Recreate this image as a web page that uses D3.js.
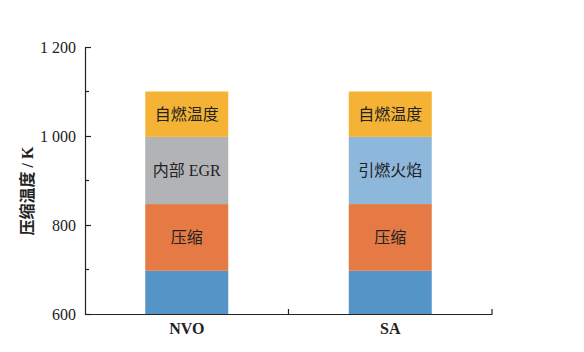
<!DOCTYPE html>
<html><head><meta charset="utf-8">
<script src="https://cdn.jsdelivr.net/npm/d3@7"></script>
<style>
html,body{margin:0;padding:0;background:#fff;}
svg{display:block;}
text{font-family:"Liberation Serif","Noto Sans CJK SC",serif;fill:#222;}
</style></head>
<body><svg id="c" width="584" height="352"></svg>
<script>
const categories = ["NVO", "SA"];
const baseTemp = [697, 697];          // 初始
const compressRise = [150, 150];      // 压缩
const middleRise = [151, 151];        // 内部 EGR / 引燃火焰
const autoRise = [102, 102];          // 自燃温度
const middleLabels = ["内部 EGR", "引燃火焰"];
const yTicks = [600, 800, 1000, 1200];
const yMinorTicks = [700, 900, 1100];
const yTitle = "压缩温度 / K";

const keys = ["base", "compress", "middle", "auto"];
const colors = {base: "#5494c7", compress: "#e67a44", auto: "#f5b335"};
const middleColors = ["#b2b3b6", "#8eb7dc"];

const table = categories.map((c, i) => ({cat: c, base: baseTemp[i], compress: compressRise[i], middle: middleRise[i], auto: autoRise[i], idx: i}));
const series = d3.stack().keys(keys)(table);

const svg = d3.select("#c");
const x = d3.scaleBand().domain(categories).range([85, 492]).paddingInner(0).paddingOuter(0);
const y = d3.scaleLinear().domain([600, 1200]).range([314, 47]);
const barW = 83;

const g = svg.append("g");
series.forEach(s => {
  g.selectAll(null).data(s).enter().append("rect")
    .attr("x", d => x(d.data.cat) + x.bandwidth() / 2 - barW / 2)
    .attr("width", barW)
    .attr("y", d => y(d[1]))
    .attr("height", d => y(Math.max(600, d[0])) - y(d[1]))
    .attr("fill", d => s.key === "middle" ? middleColors[d.data.idx] : colors[s.key]);
});

// segment labels
const labelFor = (key, d) => key === "compress" ? "压缩" : key === "middle" ? middleLabels[d.data.idx] : key === "auto" ? "自燃温度" : null;
series.forEach(s => {
  if (s.key === "base") return;
  g.selectAll(null).data(s).enter().append("text")
    .attr("x", d => x(d.data.cat) + x.bandwidth() / 2)
    .attr("y", d => (y(d[0]) + y(d[1])) / 2)
    .attr("text-anchor", "middle")
    .attr("dominant-baseline", "central")
    .attr("font-size", 16)
    .text(d => labelFor(s.key, d));
});

// y axis
const yAxis = d3.axisLeft(y).tickValues(yTicks).tickSizeInner(-6).tickSizeOuter(0).tickPadding(9)
  .tickFormat(d => d3.format(",")(d).replace(",", " "));
const ya = svg.append("g").attr("transform", "translate(85,0)").call(yAxis);
ya.selectAll("text").attr("font-size", 16).attr("font-family", "Liberation Serif").attr("fill", "#222");
ya.selectAll("line,path").attr("stroke", "#222").attr("stroke-width", 1.2);
ya.selectAll(null).data(yMinorTicks).enter().append("line")
  .attr("x1", 0).attr("x2", 4).attr("y1", d => y(d)).attr("y2", d => y(d))
  .attr("stroke", "#222").attr("stroke-width", 1.2);

// x axis
const xAxis = d3.axisBottom(x).tickSize(0).tickPadding(9);
const xa = svg.append("g").attr("transform", "translate(0,314)").call(xAxis);
xa.selectAll("text").attr("font-size", 16).attr("font-weight", "bold").attr("font-family", "Liberation Serif").attr("fill", "#222");
xa.selectAll("path").attr("stroke", "#222").attr("stroke-width", 1.2);
xa.selectAll(null).data(categories).enter().append("line")
  .attr("x1", d => x(d) + x.bandwidth()).attr("x2", d => x(d) + x.bandwidth())
  .attr("y1", 0).attr("y2", -5).attr("stroke", "#222").attr("stroke-width", 1.2);

// y title
svg.append("text")
  .attr("transform", "translate(27,191) rotate(-90)")
  .attr("text-anchor", "middle").attr("dominant-baseline", "central")
  .attr("font-size", 16).attr("font-weight", "bold")
  .text(yTitle);
</script></body></html>
